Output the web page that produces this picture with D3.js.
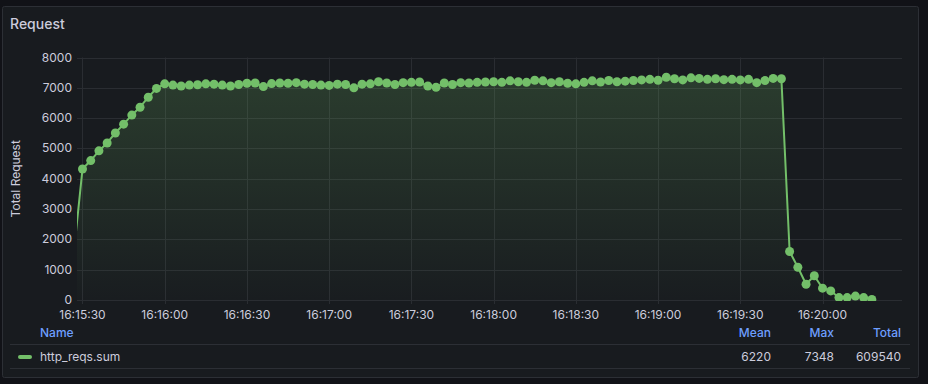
<!DOCTYPE html>
<html>
<head>
<meta charset="utf-8">
<script src="https://cdn.jsdelivr.net/npm/d3@7"></script>
<style>
  html, body { margin: 0; padding: 0; background: #111217; }
  svg { display: block; font-family: Inter, "Noto Sans", sans-serif; }
</style>
</head>
<body>
<svg id="chart" width="928" height="384"></svg>
<script>
// Data: one sample every 3s, first sample at 16:15:27 (just left of the plot)
const startTime = new Date(2024, 0, 1, 16, 15, 27);
const stepMs = 3000;
const requests = [
    1700,
    4320, 4600, 4920, 5180, 5510, 5800, 6100, 6360, 6690, 6980,
    7130, 7090, 7060, 7090, 7100, 7130, 7120, 7090, 7060, 7110,
    7150, 7160, 7040, 7140, 7160, 7150, 7170, 7120, 7110, 7090,
    7080, 7120, 7110, 7000, 7120, 7130, 7200, 7160, 7110, 7170,
    7180, 7190, 7060, 7020, 7160, 7110, 7170, 7160, 7180, 7190,
    7200, 7180, 7230, 7200, 7180, 7250, 7230, 7170, 7200, 7150,
    7130, 7180, 7230, 7190, 7240, 7200, 7220, 7240, 7260, 7280,
    7250, 7348, 7300, 7260, 7330, 7310, 7280, 7300, 7270, 7280,
    7260, 7280, 7170, 7240, 7310, 7300,
    1600, 1080, 520, 800, 390, 300, 80, 80, 130, 80, 20
];
const yTicks = [0, 1000, 2000, 3000, 4000, 5000, 6000, 7000, 8000];
const seriesName = "http_reqs.sum";
const statNames = ["Mean", "Max", "Total"];
const statValues = ["6220", "7348", "609540"];

const green = "#73bf69";
const textColor = "#ccccdc";
const gridColor = "#2a2d32";

const svg = d3.select("#chart");

// Panel
svg.append("rect")
    .attr("x", 2.5).attr("y", 6.5)
    .attr("width", 916).attr("height", 371)
    .attr("rx", 2)
    .attr("fill", "#181b1f")
    .attr("stroke", "#2c2f35");

svg.append("text")
    .attr("x", 10).attr("y", 29)
    .attr("fill", textColor)
    .attr("font-size", 14)
    .attr("font-weight", 500)
    .text("Request");

// Scales
const plot = { left: 77, right: 902, top: 57.5, bottom: 300 };

const x = d3.scaleTime()
    .domain([new Date(2024, 0, 1, 16, 15, 28), new Date(2024, 0, 1, 16, 20, 29)])
    .range([plot.left, plot.right]);

const y = d3.scaleLinear()
    .domain([0, 8000])
    .range([plot.bottom, plot.top]);

const data = requests.map((v, i) => ({ t: new Date(+startTime + i * stepMs), v: v }));

// Grid
const xTicks = x.ticks(d3.timeSecond.every(30));

svg.append("g")
    .selectAll("line")
    .data(yTicks)
    .join("line")
    .attr("x1", plot.left).attr("x2", plot.right)
    .attr("y1", d => Math.round(y(d)) + 0.5)
    .attr("y2", d => Math.round(y(d)) + 0.5)
    .attr("stroke", gridColor);

svg.append("g")
    .selectAll("line")
    .data(xTicks)
    .join("line")
    .attr("x1", d => Math.round(x(d)) + 0.5)
    .attr("x2", d => Math.round(x(d)) + 0.5)
    .attr("y1", plot.top).attr("y2", plot.bottom + 4)
    .attr("stroke", gridColor);

// Axis labels
svg.append("g")
    .selectAll("text")
    .data(yTicks)
    .join("text")
    .attr("x", 72)
    .attr("y", d => y(d) + 4)
    .attr("text-anchor", "end")
    .attr("fill", textColor)
    .attr("font-size", 12)
    .text(d => d);

const fmt = d3.timeFormat("%H:%M:%S");
svg.append("g")
    .selectAll("text")
    .data(xTicks)
    .join("text")
    .attr("x", d => x(d))
    .attr("y", 319)
    .attr("text-anchor", "middle")
    .attr("fill", textColor)
    .attr("font-size", 12)
    .text(d => fmt(d));

svg.append("text")
    .attr("transform", "translate(20," + ((plot.top + plot.bottom) / 2) + ") rotate(-90)")
    .attr("text-anchor", "middle")
    .attr("fill", textColor)
    .attr("font-size", 12)
    .text("Total Request");

// Series
const defs = svg.append("defs");
defs.append("clipPath").attr("id", "plot-clip")
    .append("rect")
    .attr("x", plot.left).attr("y", 0)
    .attr("width", plot.right - plot.left).attr("height", plot.bottom + 1);

const grad = defs.append("linearGradient")
    .attr("id", "fill-grad")
    .attr("gradientUnits", "userSpaceOnUse")
    .attr("x1", 0).attr("x2", 0)
    .attr("y1", plot.top).attr("y2", plot.bottom);
grad.append("stop").attr("offset", 0).attr("stop-color", green).attr("stop-opacity", 0.22);
grad.append("stop").attr("offset", 1).attr("stop-color", green).attr("stop-opacity", 0.01);

const series = svg.append("g").attr("clip-path", "url(#plot-clip)");

series.append("path")
    .datum(data)
    .attr("fill", "url(#fill-grad)")
    .attr("d", d3.area().x(d => x(d.t)).y0(y(0)).y1(d => y(d.v)));

series.append("path")
    .datum(data)
    .attr("fill", "none")
    .attr("stroke", green)
    .attr("stroke-width", 2)
    .attr("stroke-linejoin", "round")
    .attr("d", d3.line().x(d => x(d.t)).y(d => y(d.v)));

// points only for samples inside the visible time range
series.append("g")
    .selectAll("circle")
    .data(data.filter(d => d.t >= x.domain()[0] && d.t <= x.domain()[1]))
    .join("circle")
    .attr("cx", d => x(d.t))
    .attr("cy", d => y(d.v))
    .attr("r", 4.5)
    .attr("fill", green);

// Legend table
const statX = [771, 834, 901];
svg.append("text")
    .attr("x", 40).attr("y", 337)
    .attr("fill", "#6e9fff")
    .attr("font-size", 12)
    .attr("font-weight", 500)
    .text("Name");

svg.append("g")
    .selectAll("text")
    .data(statNames)
    .join("text")
    .attr("x", (d, i) => statX[i])
    .attr("y", 337)
    .attr("text-anchor", "end")
    .attr("fill", "#6e9fff")
    .attr("font-size", 12)
    .attr("font-weight", 500)
    .text(d => d);

svg.append("line")
    .attr("x1", 10).attr("x2", 910)
    .attr("y1", 344.5).attr("y2", 344.5)
    .attr("stroke", "#2c2f35");
svg.append("line")
    .attr("x1", 10).attr("x2", 910)
    .attr("y1", 368.5).attr("y2", 368.5)
    .attr("stroke", "#2c2f35");

svg.append("line")
    .attr("x1", 20).attr("x2", 30)
    .attr("y1", 357).attr("y2", 357)
    .attr("stroke", green)
    .attr("stroke-width", 4)
    .attr("stroke-linecap", "round");

svg.append("text")
    .attr("x", 40).attr("y", 361)
    .attr("fill", textColor)
    .attr("font-size", 12)
    .text(seriesName);

svg.append("g")
    .selectAll("text")
    .data(statValues)
    .join("text")
    .attr("x", (d, i) => statX[i])
    .attr("y", 361)
    .attr("text-anchor", "end")
    .attr("fill", textColor)
    .attr("font-size", 12)
    .text(d => d);
</script>
</body>
</html>
